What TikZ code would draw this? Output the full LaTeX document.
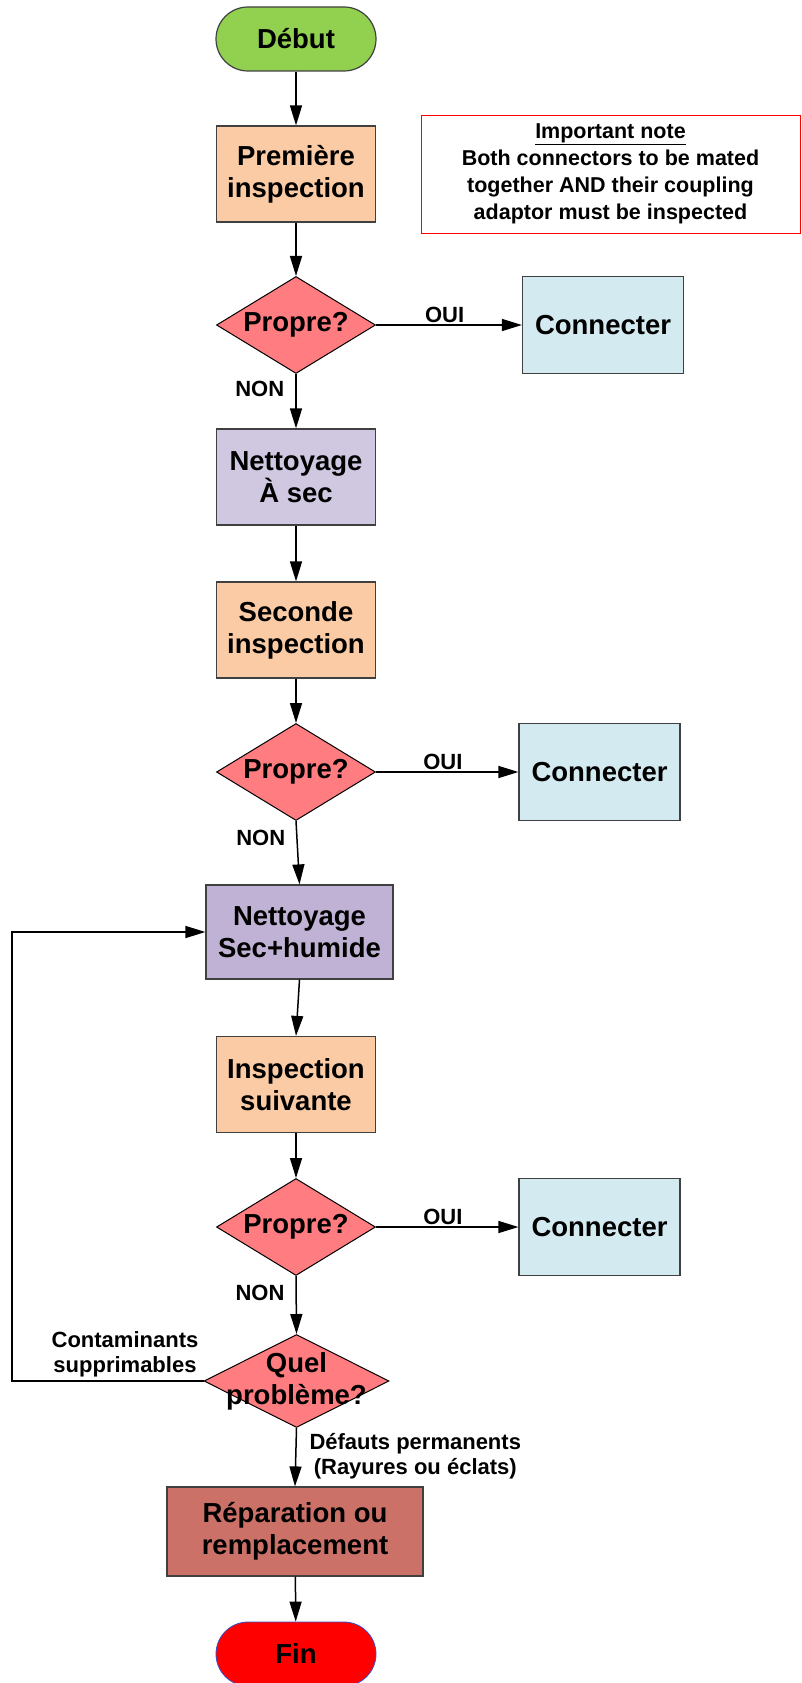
\documentclass[tikz,border=0pt]{standalone}
\usepackage{fontspec}
\setmainfont{Liberation Sans}
\usepackage{tikz}
\usetikzlibrary{positioning,arrows.meta,shapes.geometric}
\definecolor{startGreen}{HTML}{92D050}
\definecolor{inspPeach}{HTML}{FACBA4}
\definecolor{checkRed}{HTML}{FF7C80}
\definecolor{connBlue}{HTML}{D3EAF0}
\definecolor{cleanLilac}{HTML}{D0C8E0}
\definecolor{cleanPurple}{HTML}{C0B2D4}
\definecolor{repairBrown}{HTML}{CC7168}
\definecolor{edgeGrey}{HTML}{404040}
\definecolor{endBlue}{HTML}{3A4FC8}

\begin{document}
\begin{tikzpicture}[
    x=1pt, y=-1pt,
    box/.style={draw=edgeGrey, line width=1.2pt, minimum width=159pt, minimum height=96pt, inner sep=0pt, align=center, font=\fontsize{27.5}{32}\selectfont\bfseries},
    term/.style={box, rounded corners=32pt, minimum width=160pt, minimum height=64pt},
    dia/.style={diamond, draw=black, line width=1pt, fill=checkRed, inner sep=0pt, minimum width=159pt, minimum height=97pt},
    lbl/.style={inner sep=0pt, align=center, font=\fontsize{22}{25}\selectfont\bfseries},
    arr/.style={-{Triangle[length=20pt,width=12pt]}, line width=1.5pt}
  ]
  \useasboundingbox (0,0) rectangle (801,1683);

  \node[term, fill=startGreen] (debut) at (296,39) {Début};
  \node[box, fill=inspPeach] (prem) at (296,174) {Première\\inspection};
  \node[dia, label={[font=\fontsize{27.5}{32}\selectfont\bfseries]center:Propre?}] (p1) at (296,325) {};
  \node[box, fill=connBlue, minimum width=161pt, minimum height=97pt] (con1) at (603,325) {Connecter};
  \node[draw=red, line width=0.8pt, minimum width=379pt, minimum height=118pt, inner sep=0pt, align=center,
        font=\fontsize{21.5}{27}\selectfont\bfseries] (note) at (610.5,174)
        {\underline{Important note}\\Both connectors to be mated\\together AND their coupling\\adaptor must be inspected};

  \node[box, fill=cleanLilac] (sec) at (296,477) {Nettoyage\\À sec};
  \node[box, fill=inspPeach] (insp2) at (296,630) {Seconde\\inspection};
  \node[dia, label={[font=\fontsize{27.5}{32}\selectfont\bfseries]center:Propre?}] (p2) at (296,772) {};
  \node[box, fill=connBlue, minimum width=161pt, minimum height=97pt] (con2) at (599.5,772) {Connecter};

  \node[box, fill=cleanPurple, minimum width=187pt, minimum height=94pt] (wet) at (299.5,932) {Nettoyage\\Sec+humide};
  \node[box, fill=inspPeach] (insp3) at (296,1084.5) {Inspection\\suivante};
  \node[dia, label={[font=\fontsize{27.5}{32}\selectfont\bfseries]center:Propre?}] (p3) at (296,1227) {};
  \node[box, fill=connBlue, minimum width=161pt, minimum height=97pt] (con3) at (599.5,1227) {Connecter};

  \node[dia, minimum width=185pt, minimum height=93pt,
        label={[align=center, font=\fontsize{27.5}{32}\selectfont\bfseries]center:Quel\\problème?}] (quel) at (296.5,1381) {};
  \node[box, fill=repairBrown, minimum width=256pt, minimum height=89pt] (rep) at (295,1531.5) {Réparation ou\\remplacement};
  \node[term, fill=red, draw=endBlue, line width=0.8pt] (fin) at (296,1654) {Fin};
  \coordinate (back) at (12,1381);

  \draw[arr] (debut) -- (prem);
  \draw[arr] (prem) -- (p1);
  \draw[arr] (p1.east) -- (con1.west) node[lbl, pos=0.47, above=2pt] {OUI};
  \draw[arr] (p1.south) -- (sec.north) node[lbl, pos=0.27, left=11pt] {NON};
  \draw[arr] (sec) -- (insp2);
  \draw[arr] (insp2) -- (p2);
  \draw[arr] (p2.east) -- (con2.west) node[lbl, pos=0.47, above=2pt] {OUI};
  \draw[arr] (p2.south) -- (wet.north) node[lbl, pos=0.27, left=11pt] {NON};
  \draw[arr] (wet.south) -- (insp3.north);
  \draw[arr] (insp3) -- (p3);
  \draw[arr] (p3.east) -- (con3.west) node[lbl, pos=0.47, above=2pt] {OUI};
  \draw[arr] (p3.south) -- (quel.north) node[lbl, pos=0.3, left=11pt] {NON};
  \draw[arr] (quel.west) -- (back) node[lbl, pos=0.41, above=3pt] {Contaminants\\supprimables} |- (wet.west);
  \draw[arr] (quel.south) -- (rep.north) node[lbl, pos=0.48, right=13pt] {Défauts permanents\\(Rayures ou éclats)};
  \draw[arr] (rep) -- (fin);
\end{tikzpicture}
\end{document}
